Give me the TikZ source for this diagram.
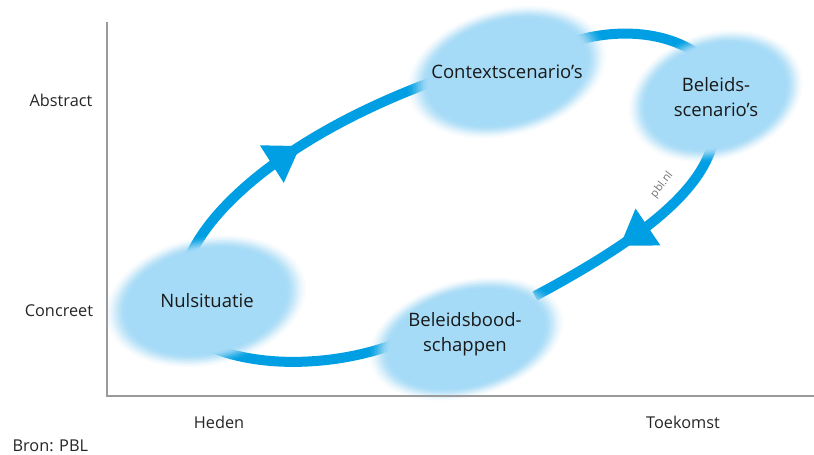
\documentclass[tikz,border=0pt]{standalone}
\usepackage{fontspec}
\setmainfont{Open Sans}
\usetikzlibrary{arrows.meta,decorations.markings,calc,backgrounds,shapes.geometric}
\definecolor{flowblue}{HTML}{009FE3}
\definecolor{blobblue}{HTML}{A5DBF7}
\definecolor{axisgray}{HTML}{9A9A9A}
\newcommand\fuzzyblob[4]{%
  \foreach \s/\o in {1/0.07,0.975/0.11,0.95/0.16,0.925/0.22,0.90/0.30,0.875/0.40,0.85/0.55,0.825/0.75,0.80/1}{%
    \fill[blobblue,opacity=\o,rotate around={#4:(#1)}] (#1) ellipse [x radius=\s*#2, y radius=\s*#3];}}
\tikzset{
  flow/.style={draw=flowblue, line width=10pt},
  midtip/.style={postaction={decorate},
    decoration={markings, mark=at position #1 with {\arrow{Triangle[length=34pt,width=42pt,fill=flowblue,color=flowblue]}}}},
  blobtext/.style={ellipse, inner sep=0pt, minimum width=190pt, minimum height=116pt, align=center, font=\fontsize{18.5}{25}\selectfont, text=black!90},
  axislabel/.style={font=\fontsize{16.3}{19}\selectfont, text=black!85},
  axisline/.style={draw=axisgray, line width=1.4pt}
}
\begin{document}
\begin{tikzpicture}[x=1pt,y=-1pt]
\useasboundingbox (0,0) rectangle (814,455);
% axes
\coordinate (top) at (107,22);
\coordinate (orig) at (107,396);
\coordinate (right) at (814,396);
\draw[axisline] (top) -- (orig) -- (right);
% labels
\node[axislabel] (abs) at (61,100) {Abstract};
\node[axislabel] (con) at (59,311) {Concreet};
\node[axislabel] (hed) at (219,422) {Heden};
\node[axislabel] (toe) at (683,422) {Toekomst};
\node[axislabel, anchor=west] (bron) at (9,446) {Bron: PBL};
% nodes
\node[blobtext] (ctx) at (507,72) {Contextscenario’s};
\node[blobtext] (bel) at (716,97) {Beleids-\\scenario’s};
\node[blobtext] (nul) at (207,301) {Nulsituatie};
\node[blobtext] (bood) at (465,334) {Beleidsbood-\\schappen};
\node[rotate=52, text=black!55, font=\fontsize{11}{13}\selectfont] (pbl) at (662,185) {pbl.nl};
\begin{pgfonlayer}{background}
  \fill[white] (0,0) rectangle (814,455);
  \draw[flow, midtip=0.51] ($(nul)+(-17,-45)$) .. controls (215,200) and (300,130) .. ($(ctx)+(-70,8)$);
  \draw[flow] ($(ctx)+(65,-30)$) .. controls (615,28) and (670,30) .. ($(bel)+(-12,-38)$);
  \draw[flow, midtip=0.60] ($(bel)+(-2,40)$) .. controls (705,190) and (640,240) .. ($(bood)+(70,-38)$);
  \draw[flow] ($(bood)+(-70,10)$) .. controls (330,368) and (250,368) .. ($(nul)+(-5,42)$);
  \fuzzyblob{ctx}{101}{63}{15}
  \fuzzyblob{$(bel)+(0,-1)$}{89}{63}{18}
  \fuzzyblob{$(nul)+(-1,0)$}{101}{64}{12}
  \fuzzyblob{$(bood)+(0,5)$}{99}{58}{15}
\end{pgfonlayer}
\end{tikzpicture}
\end{document}
